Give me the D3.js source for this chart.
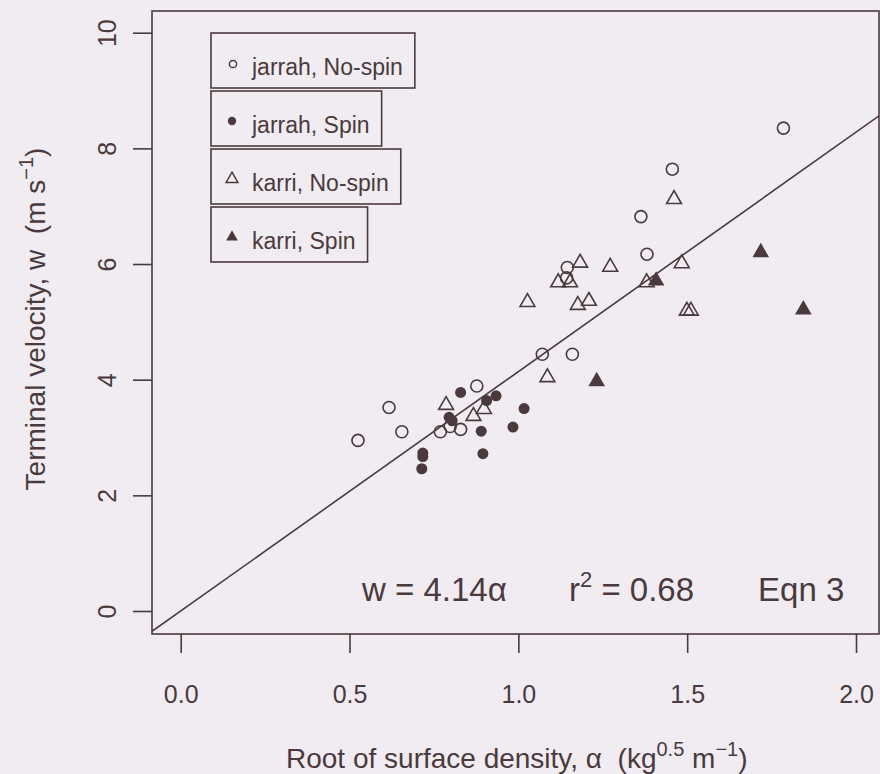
<!DOCTYPE html>
<meta charset="utf-8">
<style>

body {
  margin: 0;
  overflow: hidden;
  background: #f1ecf1;
}
svg { display: block; }
text {
  font-family: "Liberation Sans", Arial, sans-serif;
  fill: #4a3a3d;
}

</style>
<svg id="svg" width="880" height="774"></svg>
<script src="https://cdnjs.cloudflare.com/ajax/libs/d3/7.8.5/d3.min.js"></script>
<script>

// [alpha, w]
var jarrahNoSpin = [
  [1.785, 8.35], [1.456, 7.64], [1.363, 6.82], [1.381, 6.17], [1.145, 5.94],
  [1.143, 5.76], [1.071, 4.44], [1.160, 4.44], [0.877, 3.89], [0.617, 3.52],
  [0.655, 3.10], [0.525, 2.95], [0.769, 3.10], [0.798, 3.19], [0.829, 3.14]
];
var jarrahSpin = [
  [0.829, 3.78], [0.934, 3.72], [0.906, 3.64], [1.017, 3.50], [0.795, 3.35],
  [0.804, 3.29], [0.890, 3.11], [0.984, 3.18], [0.717, 2.73], [0.717, 2.67],
  [0.714, 2.46], [0.895, 2.72]
];
var karriNoSpin = [
  [1.461, 7.12], [1.183, 6.02], [1.272, 5.95], [1.484, 6.01], [1.118, 5.68],
  [1.153, 5.68], [1.380, 5.68], [1.027, 5.34], [1.176, 5.29], [1.209, 5.36],
  [1.499, 5.19], [1.511, 5.19], [1.086, 4.04], [0.786, 3.56], [0.867, 3.37],
  [0.898, 3.49]
];
var karriSpin = [
  [1.718, 6.20], [1.408, 5.71], [1.844, 5.21], [1.232, 3.97]
];

var legendLabels = ["jarrah, No-spin", "jarrah, Spin", "karri, No-spin", "karri, Spin"];
var xTicks = [0, 0.5, 1, 1.5, 2];
var xTickLabels = ["0.0", "0.5", "1.0", "1.5", "2.0"];
var yTicks = [0, 2, 4, 6, 8, 10];
var slope = 4.14;
var rSquared = "0.68";

var ink = "#4a3a3d";
var nbsp = "\u00a0";
var svg = d3.select("svg");

var frame = {left: 152, top: 11, right: 879, bottom: 634};

var x = d3.scaleLinear().domain([0, 2]).range([180.7, 856]);
var y = d3.scaleLinear().domain([0, 10]).range([611, 32.7]);

// plot frame
svg.append("rect")
    .attr("x", frame.left)
    .attr("y", frame.top)
    .attr("width", frame.right - frame.left)
    .attr("height", frame.bottom - frame.top)
    .attr("fill", "none")
    .attr("stroke", ink)
    .attr("stroke-width", 1.6);

svg.append("clipPath").attr("id", "clip")
  .append("rect")
    .attr("x", frame.left)
    .attr("y", frame.top)
    .attr("width", frame.right - frame.left)
    .attr("height", frame.bottom - frame.top);

// axes
var xAxis = svg.append("g")
    .attr("transform", "translate(0," + frame.bottom + ")")
    .call(d3.axisBottom(x).tickValues(xTicks).tickSize(19).tickFormat(function(d, i) { return xTickLabels[i]; }));
xAxis.select(".domain").remove();
xAxis.selectAll("line").attr("stroke", ink).attr("stroke-width", 1.6);
xAxis.selectAll("text")
    .attr("y", 69)
    .attr("dy", null)
    .attr("font-size", 25)
    .attr("font-family", null);

var yAxis = svg.append("g")
    .attr("transform", "translate(" + frame.left + ",0)")
    .call(d3.axisLeft(y).tickValues(yTicks).tickSize(19));
yAxis.select(".domain").remove();
yAxis.selectAll("line").attr("stroke", ink).attr("stroke-width", 1.6);
yAxis.selectAll("text")
    .attr("x", null)
    .attr("dy", null)
    .attr("text-anchor", "middle")
    .attr("font-size", 25)
    .attr("font-family", null)
    .attr("transform", "translate(-36,0) rotate(-90)");

// regression line w = 4.14 alpha
var lineX = [x.invert(frame.left), x.invert(frame.right)];
svg.append("line")
    .attr("clip-path", "url(#clip)")
    .attr("x1", x(lineX[0]))
    .attr("y1", y(slope * lineX[0]))
    .attr("x2", x(lineX[1]))
    .attr("y2", y(slope * lineX[1]))
    .attr("stroke", ink)
    .attr("stroke-width", 1.6);

// points
var tri = d3.symbol().type(d3.symbolTriangle);

svg.append("g").selectAll("circle")
    .data(jarrahNoSpin)
  .enter().append("circle")
    .attr("cx", function(d) { return x(d[0]); })
    .attr("cy", function(d) { return y(d[1]); })
    .attr("r", 6)
    .attr("fill", "none")
    .attr("stroke", ink)
    .attr("stroke-width", 1.6);

svg.append("g").selectAll("circle")
    .data(jarrahSpin)
  .enter().append("circle")
    .attr("cx", function(d) { return x(d[0]); })
    .attr("cy", function(d) { return y(d[1]); })
    .attr("r", 5.5)
    .attr("fill", ink);

svg.append("g").selectAll("path")
    .data(karriNoSpin)
  .enter().append("path")
    .attr("d", tri.size(95))
    .attr("transform", function(d) { return "translate(" + x(d[0]) + "," + y(d[1]) + ")"; })
    .attr("fill", "none")
    .attr("stroke", ink)
    .attr("stroke-width", 1.6);

svg.append("g").selectAll("path")
    .data(karriSpin)
  .enter().append("path")
    .attr("d", tri.size(120))
    .attr("transform", function(d) { return "translate(" + x(d[0]) + "," + y(d[1]) + ")"; })
    .attr("fill", ink);

// legend: one box per entry
var legend = svg.append("g").selectAll("g")
    .data(legendLabels)
  .enter().append("g")
    .attr("transform", function(d, i) { return "translate(211," + (33 + i * 58) + ")"; });

var boxes = legend.append("rect")
    .attr("height", 55)
    .attr("fill", "none")
    .attr("stroke", ink)
    .attr("stroke-width", 1.6);

legend.append("text")
    .attr("x", 41)
    .attr("y", 42)
    .attr("font-size", 23)
    .text(function(d) { return d; });

boxes.attr("width", function() {
  return this.parentNode.querySelector("text").getComputedTextLength() + 53;
});

legend.each(function(d, i) {
  var g = d3.select(this);
  if (i === 0) {
    g.append("circle").attr("cx", 22).attr("cy", 31).attr("r", 3.6)
        .attr("fill", "none").attr("stroke", ink).attr("stroke-width", 1.5);
  } else if (i === 1) {
    g.append("circle").attr("cx", 21).attr("cy", 30).attr("r", 4.2).attr("fill", ink);
  } else {
    g.append("path").attr("d", tri.size(60)())
        .attr("transform", "translate(21,30)")
        .attr("fill", i === 3 ? ink : "none")
        .attr("stroke", i === 3 ? null : ink)
        .attr("stroke-width", 1.5);
  }
});

// annotation
var ann = svg.append("g").attr("font-size", 33);
ann.append("text")
    .attr("x", x(0.537))
    .attr("y", y(0.18))
    .text("w = " + slope + "\u03b1");
var r2 = ann.append("text")
    .attr("x", x(1.15))
    .attr("y", y(0.18));
r2.append("tspan").text("r");
r2.append("tspan").attr("dy", -14).attr("font-size", 22).text("2");
r2.append("tspan").attr("dy", 14).text(" = " + rSquared);
ann.append("text")
    .attr("x", x(1.71))
    .attr("y", y(0.18))
    .text("Eqn 3");

// axis titles
var xt = svg.append("text")
    .attr("x", 286)
    .attr("y", 768)
    .attr("font-size", 28);
xt.append("tspan").text("Root of surface density, \u03b1" + nbsp + nbsp + "(kg");
xt.append("tspan").attr("dy", -12).attr("font-size", 20).text("0.5");
xt.append("tspan").attr("dy", 12).text(nbsp + "m");
xt.append("tspan").attr("dy", -12).attr("font-size", 20).text("\u22121");
xt.append("tspan").attr("dy", 12).text(")");

var yt = svg.append("text")
    .attr("text-anchor", "middle")
    .attr("font-size", 28)
    .attr("transform", "translate(45,319) rotate(-90)");
yt.append("tspan").text("Terminal velocity, w" + nbsp + nbsp + "(m s");
yt.append("tspan").attr("dy", -12).attr("font-size", 20).text("\u22121");
yt.append("tspan").attr("dy", 12).text(")");

</script>
